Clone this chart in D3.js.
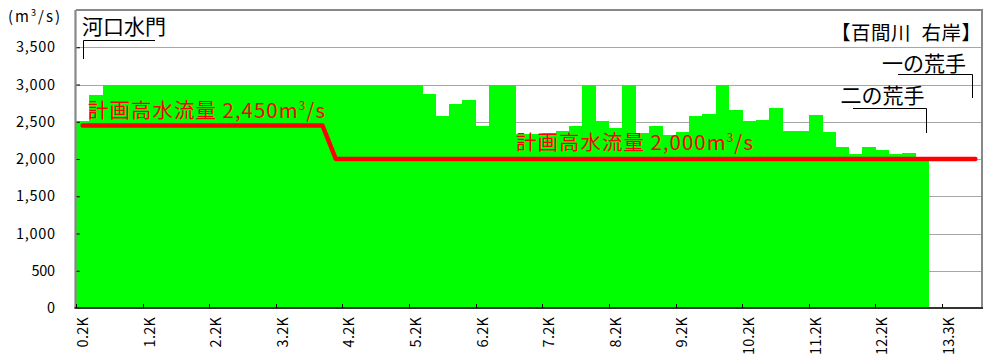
<!DOCTYPE html>
<html>
<head>
<meta charset="utf-8">
<script src="https://cdn.jsdelivr.net/npm/d3@7"></script>
<style>
  html, body { margin: 0; padding: 0; background: #fff; }
  svg { display: block; font-family: "Noto Sans CJK JP", "Noto Sans", sans-serif; }
</style>
</head>
<body>
<svg id="chart" width="984" height="354"></svg>
<script>
// Survey sections along the river (distance from the mouth)
const categories = [
  "0.2K","0.4K","0.6K","0.8K","1.0K","1.2K","1.4K","1.6K","1.8K","2.0K",
  "2.2K","2.4K","2.6K","2.8K","3.0K","3.2K","3.4K","3.6K","3.8K","4.0K",
  "4.2K","4.4K","4.6K","4.8K","5.0K","5.2K","5.4K","5.6K","5.8K","6.0K",
  "6.2K","6.4K","6.6K","6.8K","7.0K","7.2K","7.4K","7.6K","7.8K","8.0K",
  "8.2K","8.4K","8.6K","8.8K","9.0K","9.2K","9.4K","9.6K","9.8K","10.0K",
  "10.2K","10.4K","10.6K","10.8K","11.0K","11.2K","11.4K","11.6K","11.8K","12.0K",
  "12.2K","12.4K","12.6K","12.8K","13.0K","13.3K","13.5K","13.7K"
];

// Current flow capacity per section (m3/s), right bank
const capacity = [
  2505, 2860, 3000, 3000, 3000, 3000, 3000, 3000, 3000, 3000,
  3000, 3000, 3000, 3000, 3000, 3000, 3000, 3000, 3000, 3000,
  3000, 3000, 3000, 3000, 3000, 3000, 2870, 2580, 2740, 2795,
  2440, 3000, 3000, 2340, 2340, 2345, 2375, 2446, 3000, 2505,
  2415, 3000, 2350, 2446, 2326, 2357, 2575, 2608, 3000, 2653,
  2505, 2527, 2684, 2371, 2371, 2590, 2357, 2165, 2066, 2160,
  2118, 2066, 2080, 1975
];

// Design high-water discharge (m3/s)
const designFlow = [
  2450, 2450, 2450, 2450, 2450, 2450, 2450, 2450, 2450, 2450,
  2450, 2450, 2450, 2450, 2450, 2450, 2450, 2450, 2450, 2000,
  2000, 2000, 2000, 2000, 2000, 2000, 2000, 2000, 2000, 2000,
  2000, 2000, 2000, 2000, 2000, 2000, 2000, 2000, 2000, 2000,
  2000, 2000, 2000, 2000, 2000, 2000, 2000, 2000, 2000, 2000,
  2000, 2000, 2000, 2000, 2000, 2000, 2000, 2000, 2000, 2000,
  2000, 2000, 2000, 2000, 2000, 2000, 2000, 2000
];

const yTicks = [0, 500, 1000, 1500, 2000, 2500, 3000, 3500];
const xTickLabels = ["0.2K","1.2K","2.2K","3.2K","4.2K","5.2K","6.2K","7.2K",
                     "8.2K","9.2K","10.2K","11.2K","12.2K","13.3K"];

const designLabels = [
  { text: "計画高水流量 2,450", x0: 88,  width: 237, base: 117.5 },
  { text: "計画高水流量 2,000", x0: 516, width: 237, base: 149.5 }
];

const plot = { left: 76, right: 982, top: 10, bottom: 308 };

const svg = d3.select("#chart");

const x = d3.scaleBand()
  .domain(categories)
  .range([plot.left, plot.right])
  .padding(0);
const bw = x.bandwidth();

const y = d3.scaleLinear()
  .domain([0, 4000])
  .range([plot.bottom, plot.top]);

// horizontal gridlines
svg.append("g")
  .selectAll("line")
  .data(yTicks.filter(v => v > 0))
  .join("line")
  .attr("x1", plot.left).attr("x2", plot.right)
  .attr("y1", d => Math.round(y(d)) + 0.5)
  .attr("y2", d => Math.round(y(d)) + 0.5)
  .attr("stroke", "#a6a6a6")
  .attr("stroke-width", 1.2);

// capacity bars
svg.append("g")
  .selectAll("rect")
  .data(capacity)
  .join("rect")
  .attr("x", (d, i) => x(categories[i]))
  .attr("width", bw + 0.4)
  .attr("y", d => y(d))
  .attr("height", d => y(0) - y(d))
  .attr("fill", "#00ff00")
  .attr("shape-rendering", "crispEdges");

// frame: top and right
svg.append("path")
  .attr("d", `M${plot.left},${plot.top} H${plot.right} V${plot.bottom}`)
  .attr("fill", "none")
  .attr("stroke", "#888")
  .attr("stroke-width", 2);

// design discharge line
const line = d3.line()
  .x((d, i) => x(categories[i]) + bw / 2)
  .y(d => y(d));
svg.append("path")
  .datum(designFlow)
  .attr("d", line)
  .attr("fill", "none")
  .attr("stroke", "#ff0000")
  .attr("stroke-width", 4.5)
  .attr("stroke-linecap", "round")
  .attr("stroke-linejoin", "round");

// fixed-pitch look for tick labels
const pitch = (sel, w) => sel.attr("textLength", function () { return this.textContent.length * w; })
  .attr("lengthAdjust", "spacing");

// y axis
const yAxis = d3.axisLeft(y)
  .tickValues(yTicks)
  .tickSizeInner(-4)
  .tickSizeOuter(0)
  .tickPadding(21)
  .tickFormat(d3.format(","));
const gy = svg.append("g")
  .attr("transform", `translate(${plot.left},0)`)
  .call(yAxis);
gy.select(".domain").remove();
gy.selectAll(".tick line").attr("stroke", "#000");
gy.selectAll(".tick text")
  .attr("font-family", "'Noto Sans CJK JP', sans-serif")
  .attr("font-size", 14.5)
  .attr("fill", "#000")
  .call(pitch, 7.8);
svg.append("line")
  .attr("x1", plot.left - 0.5).attr("x2", plot.left - 0.5)
  .attr("y1", plot.top).attr("y2", plot.bottom)
  .attr("stroke", "#888").attr("stroke-width", 2.2);

// x axis
const gx = svg.append("g");
gx.append("line")
  .attr("x1", plot.left - 1.5).attr("x2", plot.right + 1)
  .attr("y1", plot.bottom).attr("y2", plot.bottom)
  .attr("stroke", "#333").attr("stroke-width", 2);
gx.selectAll("line.tick")
  .data(xTickLabels)
  .join("line")
  .attr("class", "tick")
  .attr("x1", d => Math.round(x(d)) + 0.5)
  .attr("x2", d => Math.round(x(d)) + 0.5)
  .attr("y1", plot.bottom).attr("y2", plot.bottom - 4)
  .attr("stroke", "#000");
gx.selectAll("text")
  .data(xTickLabels)
  .join("text")
  .attr("transform", d => `translate(${x(d) + bw / 2},317) rotate(-90)`)
  .attr("text-anchor", "end")
  .attr("dy", "0.36em")
  .attr("font-size", 14.5)
  .attr("fill", "#000")
  .text(d => d)
  .call(pitch, 7.6);

// unit label
const unit = svg.append("text")
  .attr("x", 8).attr("y", 22)
  .attr("font-size", 15)
  .attr("fill", "#000")
  .attr("textLength", 52)
  .attr("lengthAdjust", "spacing");
unit.append("tspan").text("(m");
unit.append("tspan").attr("font-size", 9).attr("dy", -6).text("3");
unit.append("tspan").attr("dy", 6).text("/s)");

// design discharge labels
designLabels.forEach(l => {
  const t = svg.append("text")
    .attr("x", l.x0).attr("y", l.base)
    .attr("font-size", 20.5)
    .attr("fill", "#ff0000")
    .attr("textLength", l.width)
    .attr("lengthAdjust", "spacing");
  t.append("tspan").text(l.text + "m");
  t.append("tspan").attr("font-size", 12).attr("dy", -8).text("3");
  t.append("tspan").attr("dy", 8).text("/s");
});

// facility annotations
const ann = svg.append("g").attr("fill", "none").attr("stroke", "#000").attr("stroke-width", 1);
ann.append("path").attr("d", "M83.5,59 V40.5 H155");
ann.append("path").attr("d", "M898,74.5 H972.5 V98");
ann.append("path").attr("d", "M853,108.5 H926.5 V133");

svg.append("text").attr("x", 82).attr("y", 34)
  .attr("font-size", 21).attr("fill", "#000").text("河口水門");
svg.append("text").attr("x", 981).attr("y", 40)
  .attr("text-anchor", "end")
  .attr("font-size", 19.5).attr("fill", "#000")
  .attr("textLength", 150).attr("lengthAdjust", "spacing")
  .text("【百間川\u2002右岸】");
svg.append("text").attr("x", 966).attr("y", 71)
  .attr("text-anchor", "end")
  .attr("font-size", 21).attr("fill", "#000").text("一の荒手");
svg.append("text").attr("x", 924.5).attr("y", 102.5)
  .attr("text-anchor", "end")
  .attr("font-size", 21).attr("fill", "#000").text("二の荒手");
</script>
</body>
</html>
